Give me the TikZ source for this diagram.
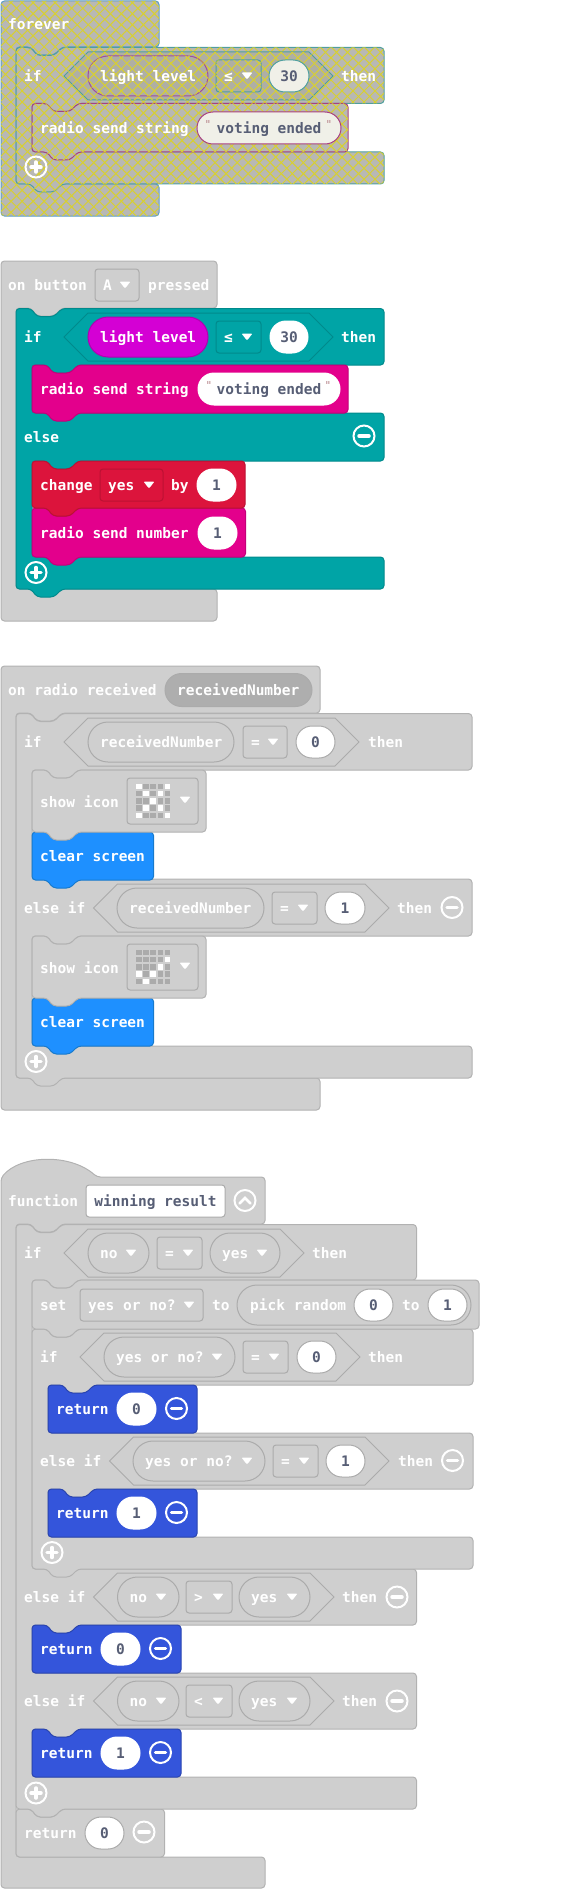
\documentclass[tikz,border=0pt]{standalone}
\usepackage{fontspec}
\setmonofont{DejaVu Sans Mono}
\usetikzlibrary{patterns.meta}
\definecolor{blockgray}{HTML}{CFCFCF}
\definecolor{blockline}{HTML}{B2B2B2}
\definecolor{fieldline}{HTML}{ABABAB}
\definecolor{ledoff}{HTML}{ABABAB}
\definecolor{valuepill}{HTML}{AEAEAE}
\definecolor{fieldtext}{HTML}{575E75}
\definecolor{quotemark}{HTML}{B8868C}
\definecolor{logicteal}{HTML}{00A4A6}
\definecolor{logicline}{HTML}{008A8C}
\definecolor{radiopink}{HTML}{E3008C}
\definecolor{radioline}{HTML}{C4007A}
\definecolor{sensorpurple}{HTML}{D400D4}
\definecolor{sensorline}{HTML}{B000B0}
\definecolor{varred}{HTML}{DC143C}
\definecolor{varline}{HTML}{BC1133}
\definecolor{basicblue}{HTML}{1E90FF}
\definecolor{basicline}{HTML}{187ACC}
\definecolor{returnblue}{HTML}{3455DB}
\definecolor{returnline}{HTML}{2A45B0}
\definecolor{hatchbase}{HTML}{B8B8B4}
\definecolor{hatchdark}{HTML}{AFAFA4}
\definecolor{hatchyellow}{HTML}{D8D030}
\definecolor{hatchfield}{HTML}{F0F0E8}
\definecolor{hatchblue}{HTML}{5A9CC8}
\definecolor{hatchteal}{HTML}{4F9F9F}
\definecolor{hatchpink}{HTML}{A8407F}
\definecolor{hatchpurple}{HTML}{A04CA0}
\tikzset{
    x=1pt,y=-1pt,
    every node/.style={inner sep=0pt,font=\ttfamily\bfseries\fontsize{14.5}{17}\selectfont},
    crosshatch/.style={postaction={pattern={Lines[angle=45,distance=7.8pt,line width=1pt]},pattern color=hatchyellow},
        postaction={pattern={Lines[angle=-45,distance=7.8pt,line width=1pt]},pattern color=hatchyellow}},
    blockshape/.style={line width=1pt,rounded corners=3.5pt},
    graybk/.style={blockshape,fill=blockgray,draw=blockline},
    tealbk/.style={blockshape,fill=logicteal,draw=logicline},
    pinkbk/.style={blockshape,fill=radiopink,draw=radioline},
    redbk/.style={blockshape,fill=varred,draw=varline},
    bluebk/.style={blockshape,fill=basicblue,draw=basicline},
    retbk/.style={blockshape,fill=returnblue,draw=returnline},
    hatchbk/.style={blockshape,fill=hatchbase,crosshatch,draw=#1},
    grayin/.style={line width=1pt,fill=blockgray,draw=fieldline},
    tealin/.style={line width=1pt,fill=logicteal,draw=logicline},
    hatchin/.style={line width=1pt,fill=hatchdark,crosshatch,draw=#1},
    purplein/.style={line width=1pt,fill=sensorpurple,draw=sensorline},
    varin/.style={line width=1pt,fill=varred,draw=varline},
    valuein/.style={line width=1pt,fill=valuepill,draw=fieldline},
    whitein/.style={line width=1pt,fill=white,draw=white},
    grayfield/.style={line width=1pt,fill=white,draw=fieldline},
    hatchfieldin/.style={line width=1pt,fill=hatchfield,draw=#1},
    iconline/.style={draw=white,line width=2pt},
    iconbar/.style={draw=white,line width=3.5pt,line cap=round}
}
\newcount\lblno
\newcommand{\notchat}[2]{-- (#1+15,#2) -- (#1+21,#2+8) -- (#1+38,#2+8) -- (#1+46,#2)}
\newcommand{\bumpat}[2]{-- (#1+46,#2) -- (#1+38,#2+8) -- (#1+21,#2+8) -- (#1+15,#2)}
\newcommand{\armgap}[4]{-- (#1,#3) \bumpat{#2}{#3} -- (#2,#3) -- (#2,#4) -- (#1,#4)}
\newcommand{\stackblock}[5]{\draw[#1] (#2,#3) \notchat{#2}{#3} -- (#4,#3) -- (#4,#5) \bumpat{#2}{#5} -- (#2,#5) -- cycle;}
\newcommand{\flatblock}[5]{\draw[#1] (#2,#3) \notchat{#2}{#3} -- (#4,#3) -- (#4,#5) -- (#2,#5) -- cycle;}
\newcommand{\hatblock}[6]{\draw[#1] (1,#3) -- (#2,#3) -- (#2,#4) \bumpat{16}{#4} -- (16,#4) -- (16,#5) -- (#2,#5) -- (#2,#6) -- (1,#6) -- cycle;}
\newcommand{\hexbool}[4]{\draw[#1] (#2,#4) -- (#2+24,#4-24) -- (#3-24,#4-24) -- (#3,#4) -- (#3-24,#4+24) -- (#2+24,#4+24) -- cycle;}
\newcommand{\pillbox}[5]{\draw[#1,rounded corners=#5pt] (#2,#4-#5) rectangle (#3,#4+#5);}
\newcommand{\lbl}[3]{\global\advance\lblno by 1 \node[anchor=base west,text=white] (lbl\the\lblno) at (#1,#2+5.2) {#3};}
\newcommand{\fieldlbl}[3]{\global\advance\lblno by 1 \node[anchor=base,text=fieldtext] (lbl\the\lblno) at ({#1},{#2+5.2}) {#3};}
\newcommand{\downtri}[2]{\fill[white,rounded corners=1pt] (#1-5.5,#2-3.5) -- (#1+5.5,#2-3.5) -- (#1,#2+3.5) -- cycle;}
\newcommand{\dropbox}[5]{\draw[#1,rounded corners=3pt] (#2,#4-16) rectangle (#3,#4+16); \lbl{#2+8}{#4}{#5} \downtri{#3-14}{#4}}
\newcommand{\pilldrop}[5]{\pillbox{#1}{#2}{#3}{#4}{20} \lbl{#2+12}{#4}{#5} \downtri{#3-18}{#4}}
\newcommand{\numpill}[5]{\pillbox{#1}{#2}{#3}{#4}{16} \fieldlbl{(#2+#3)/2}{#4}{#5}}
\newcommand{\stringpill}[4]{\pillbox{#1}{#2}{#3}{#4}{16} \fieldlbl{(#2+#3)/2}{#4}{voting ended}
    \global\advance\lblno by 1 \node[text=quotemark,font=\ttfamily\fontsize{11}{13}\selectfont] (lbl\the\lblno) at (#2+11,#4-4) {"};
    \global\advance\lblno by 1 \node[text=quotemark,font=\ttfamily\fontsize{11}{13}\selectfont] (lbl\the\lblno) at (#3-12,#4-4) {"};}
\newcommand{\plusicon}[2]{\draw[iconline] (#1,#2) circle (10.5pt); \draw[iconbar] (#1-5,#2) -- (#1+5,#2); \draw[iconbar] (#1,#2-5) -- (#1,#2+5);}
\newcommand{\minusicon}[2]{\draw[iconline] (#1,#2) circle (10.5pt); \draw[iconbar] (#1-5,#2) -- (#1+5,#2);}
\newcommand{\ledgrid}[2]{\foreach \r in {0,...,4} \foreach \c in {0,...,4} \fill[ledoff] (136+7.2*\c,#1+7.25*\r) rectangle +(5.6,5.6);
    \foreach \c/\r in {#2} \fill[white] (136+7.2*\c,#1+7.25*\r) rectangle +(5.6,5.6);}
\newcommand{\iconblock}[2]{\stackblock{graybk}{32}{#1}{206}{#1+62} \lbl{40}{#1+32}{show icon}
    \draw[grayin,rounded corners=3pt] (127,#1+8) rectangle (198,#1+54); \ledgrid{#1+13.5}{#2} \downtri{185}{#1+30}}
\newcommand{\returnrow}[3]{\flatblock{retbk}{#1}{#2}{#1+149}{#2+48} \lbl{#1+8}{#2+24}{return} \numpill{whitein}{#1+69}{#1+108}{#2+24}{#3} \minusicon{#1+128.5}{#2+23.5}}
\begin{document}
\begin{tikzpicture}
    \useasboundingbox (0,0) rectangle (583,1889);

    \hatblock{hatchbk=hatchblue}{159}{1}{47}{184}{216}
    \draw[hatchbk=hatchteal] (16,47.5) \notchat{16}{47.5} -- (384,47.5) \armgap{384}{32}{103.5}{152} -- (384,184) \bumpat{16}{184} -- (16,184) -- cycle;
    \stackblock{hatchbk=hatchpink}{32}{103.5}{348}{152}
    \hexbool{hatchin=hatchteal}{64}{333}{76}
    \pillbox{hatchin=hatchpurple}{88}{208}{76}{20}
    \draw[hatchin=hatchteal,rounded corners=3pt] (216,60) rectangle (261,92);
    \numpill{hatchfieldin=hatchteal}{269}{309}{76}{30}
    \stringpill{hatchfieldin=hatchpink}{197}{341}{128}
    \lbl{8}{24}{forever}
    \lbl{24}{76}{if}
    \lbl{100}{76}{light level}
    \lbl{224}{76}{≤}
    \downtri{247}{76}
    \lbl{341}{76}{then}
    \lbl{40}{128}{radio send string}
    \plusicon{36}{167}

    \hatblock{graybk}{217}{261}{308}{589}{621}
    \dropbox{grayin}{95}{139}{285}{A}
    \lbl{8}{285}{on button}
    \lbl{148}{285}{pressed}
    \draw[tealbk] (16,308.5) \notchat{16}{308.5} -- (384,308.5) \armgap{384}{32}{365}{413} \armgap{384}{32}{461}{557} -- (384,589) \bumpat{16}{589} -- (16,589) -- cycle;
    \hexbool{tealin}{64}{333}{337}
    \pillbox{purplein}{88}{208}{337}{20}
    \lbl{100}{337}{light level}
    \dropbox{tealin}{216}{261}{337}{≤}
    \numpill{whitein}{270}{308}{337}{30}
    \lbl{24}{337}{if}
    \lbl{341}{337}{then}
    \lbl{24}{437}{else}
    \minusicon{364}{436}
    \plusicon{36}{572.5}
    \stackblock{pinkbk}{32}{365}{348}{413}
    \lbl{40}{389}{radio send string}
    \stringpill{whitein}{198}{340}{389}
    \stackblock{pinkbk}{32}{508}{245.5}{557}
    \lbl{40}{533}{radio send number}
    \numpill{whitein}{198}{237}{533}{1}
    \stackblock{redbk}{32}{461}{245}{508}
    \lbl{40}{485.5}{change}
    \dropbox{varin}{100}{163}{485}{yes}
    \lbl{171}{485.5}{by}
    \numpill{whitein}{197}{236}{485}{1}

    \hatblock{graybk}{320}{666}{713}{1078}{1110}
    \lbl{8}{690}{on radio received}
    \pillbox{valuein}{165}{312}{690}{16.5}
    \lbl{177}{690}{receivedNumber}
    \draw[graybk] (16,713.5) \notchat{16}{713.5} -- (472,713.5) \armgap{472}{32}{770}{879} \armgap{472}{32}{936}{1046} -- (472,1078) \bumpat{16}{1078} -- (16,1078) -- cycle;
    \hexbool{grayin}{64}{359}{742}
    \pillbox{grayin}{88}{234}{742}{20}
    \lbl{100}{742}{receivedNumber}
    \dropbox{grayin}{243}{287}{742}{=}
    \numpill{grayfield}{296}{335}{742}{0}
    \lbl{24}{742}{if}
    \lbl{368}{742}{then}
    \hexbool{grayin}{93.5}{389}{908}
    \pillbox{grayin}{117}{264}{908}{20}
    \lbl{129}{908}{receivedNumber}
    \dropbox{grayin}{272}{317}{908}{=}
    \numpill{grayfield}{325}{365}{908}{1}
    \lbl{24}{908}{else if}
    \lbl{397}{908}{then}
    \minusicon{452}{907.5}
    \plusicon{36}{1061.5}
    \stackblock{bluebk}{32}{832}{153.5}{880}
    \lbl{40}{856.5}{clear screen}
    \iconblock{770}{0/0,4/0,1/1,3/1,2/2,1/3,3/3,0/4,4/4}
    \stackblock{bluebk}{32}{998}{153.5}{1046}
    \lbl{40}{1022.5}{clear screen}
    \iconblock{936}{4/1,3/2,0/3,2/3,1/4}

    \draw[graybk] (1,1178) .. controls (20,1155) and (70,1153) .. (97,1177) -- (265,1177) -- (265,1224) \bumpat{16}{1224} -- (16,1224) -- (16,1857) -- (265,1857) -- (265,1888) -- (1,1888) -- cycle;
    \lbl{8}{1201}{function}
    \draw[line width=1pt,fill=white,draw=fieldline,rounded corners=3pt] (86,1185) rectangle (225,1217);
    \fieldlbl{155.5}{1201}{winning result}
    \draw[iconline] (245,1200.5) circle (10.5pt);
    \draw[iconline,line width=2.5pt,line cap=round] (239.5,1203.5) -- (245,1198) -- (250.5,1203.5);
    \flatblock{graybk}{16}{1809}{164.5}{1857}
    \lbl{24}{1833}{return}
    \numpill{grayfield}{85}{124}{1833}{0}
    \minusicon{144}{1832}
    \draw[graybk] (16,1224.5) \notchat{16}{1224.5} -- (416.5,1224.5) \armgap{416.5}{32}{1280}{1569} \armgap{416.5}{32}{1625}{1673} \armgap{416.5}{32}{1729}{1777} -- (416.5,1809) \bumpat{16}{1809} -- (16,1809) -- cycle;
    \hexbool{grayin}{64}{304}{1253}
    \pilldrop{grayin}{88}{149}{1253}{no}
    \dropbox{grayin}{157}{202}{1253}{=}
    \pilldrop{grayin}{210}{280}{1253}{yes}
    \lbl{24}{1253}{if}
    \lbl{312}{1253}{then}
    \hexbool{grayin}{93.5}{334}{1597}
    \pilldrop{grayin}{117.5}{179}{1597}{no}
    \dropbox{grayin}{186}{232}{1597}{>}
    \pilldrop{grayin}{239}{310}{1597}{yes}
    \lbl{24}{1597}{else if}
    \lbl{342}{1597}{then}
    \minusicon{397}{1597}
    \hexbool{grayin}{93.5}{334}{1701}
    \pilldrop{grayin}{117.5}{179}{1701}{no}
    \dropbox{grayin}{186}{232}{1701}{<}
    \pilldrop{grayin}{239}{310}{1701}{yes}
    \lbl{24}{1701}{else if}
    \lbl{342}{1701}{then}
    \minusicon{397}{1701}
    \plusicon{36}{1793}
    \returnrow{32}{1625}{0}
    \returnrow{32}{1729}{1}
    \draw[graybk] (32,1329) \notchat{32}{1329} -- (473,1329) \armgap{473}{48}{1385}{1433} \armgap{473}{48}{1489}{1537} -- (473,1569) \bumpat{32}{1569} -- (32,1569) -- cycle;
    \hexbool{grayin}{80}{360}{1357}
    \pilldrop{grayin}{104}{235}{1357}{yes or no?}
    \dropbox{grayin}{243}{288}{1357}{=}
    \numpill{grayfield}{297}{336}{1357}{0}
    \lbl{40}{1357}{if}
    \lbl{368}{1357}{then}
    \hexbool{grayin}{109.5}{389}{1461}
    \pilldrop{grayin}{133}{265}{1461}{yes or no?}
    \dropbox{grayin}{273}{318}{1461}{=}
    \numpill{grayfield}{326}{365}{1461}{1}
    \lbl{40}{1461}{else if}
    \lbl{398}{1461}{then}
    \minusicon{452.5}{1460.5}
    \plusicon{52}{1552.5}
    \returnrow{48}{1385}{0}
    \returnrow{48}{1489}{1}
    \stackblock{graybk}{32}{1280}{479}{1329}
    \lbl{40}{1305}{set}
    \dropbox{grayin}{80}{203}{1305}{yes or no?}
    \lbl{212}{1305}{to}
    \pillbox{grayin}{237}{471}{1305}{20}
    \lbl{250}{1305}{pick random}
    \numpill{grayfield}{354}{393}{1305}{0}
    \lbl{402}{1305}{to}
    \numpill{grayfield}{428}{467}{1305}{1}
\end{tikzpicture}
\end{document}
